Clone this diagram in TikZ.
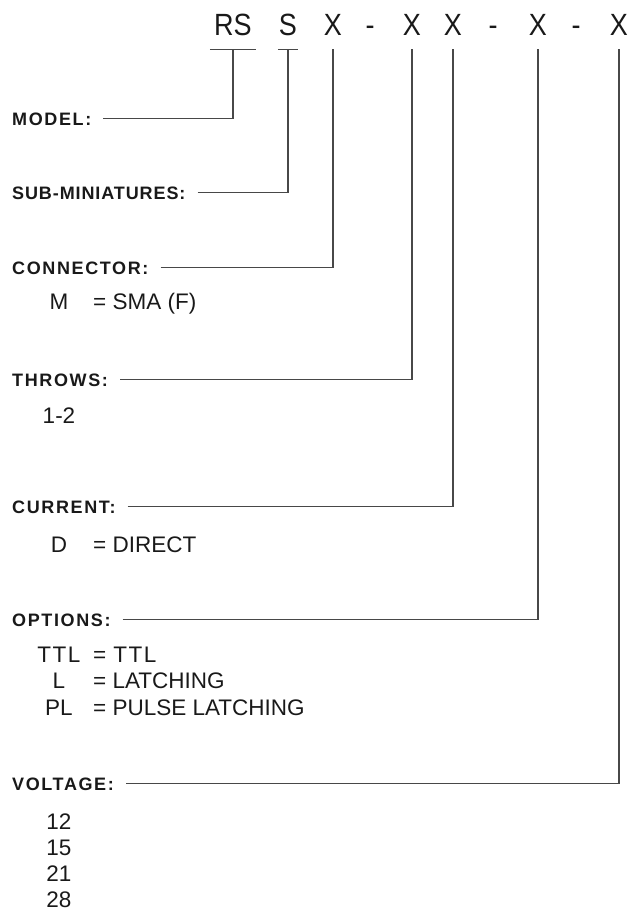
\documentclass[tikz,border=0pt]{standalone}
\usepackage{fontspec}
\setmainfont{Liberation Sans}
\newfontfamily\codefont{Liberation Sans}[FakeStretch=0.88]
\newfontfamily\lblfont{Liberation Sans}[LetterSpace=9]
\newfontfamily\lblfonttight{Liberation Sans}[LetterSpace=5]
\usetikzlibrary{positioning}
\definecolor{linegray}{RGB}{72,72,72}
\definecolor{ink}{RGB}{25,25,25}
\tikzset{
  code/.style={anchor=base,font=\codefont\fontsize{30.7}{32}\selectfont,text=ink,
               text depth=0pt,inner xsep=0pt,inner ysep=14pt},
  lbl/.style={anchor=base west,font=\lblfont\bfseries\fontsize{18}{20}\selectfont,text=ink,
              text height=13pt,text depth=0pt,inner xsep=12pt,inner ysep=0pt},
  key/.style={anchor=base,font=\fontsize{22.5}{24}\selectfont,text=ink,inner sep=0pt},
  val/.style={anchor=base west,font=\fontsize{22.5}{24}\selectfont,text=ink,inner sep=0pt},
  conn/.style={draw=linegray,line width=1.3pt}
}

\begin{document}
\begin{tikzpicture}[x=1pt,y=-1pt]
  \useasboundingbox (0,0) rectangle (640,914);
  % part number
  \node[code,minimum width=46pt] (rs) at (233,35) {RS};
  \node[code,minimum width=20pt] (sub) at (288,35) {S};
  \node[code] (con) at (333,35) {X};
  \node[code] (da) at (370,35) {-};
  \node[code] (thr) at (412,35) {X};
  \node[code] (cur) at (453,35) {X};
  \node[code] (db) at (493,35) {-};
  \node[code] (opt) at (538,35) {X};
  \node[code] (dc) at (576,35) {-};
  \node[code] (vol) at (619,35) {X};
  % field labels
  \node[lbl] (model) at (0,125) {MODEL:};
  \node[lbl,font=\lblfonttight\bfseries\fontsize{18}{20}\selectfont] (subm) at (0,199) {SUB-MINIATURES:};
  \node[lbl] (conn) at (0,274) {CONNECTOR:};
  \node[lbl] (throws) at (0,386) {THROWS:};
  \node[lbl] (current) at (0,513) {CURRENT:};
  \node[lbl] (options) at (0,626) {OPTIONS:};
  \node[lbl] (voltage) at (0,790) {VOLTAGE:};
  % connectors
  \draw[conn] (rs.south west) -- (rs.south east);
  \draw[conn] (sub.south west) -- (sub.south east);
  \draw[conn] (model.east) -| (rs.south);
  \draw[conn] (subm.east) -| (sub.south);
  \draw[conn] (conn.east) -| (con.south);
  \draw[conn] (throws.east) -| (thr.south);
  \draw[conn] (current.east) -| (cur.south);
  \draw[conn] (options.east) -| (opt.south);
  \draw[conn] (voltage.east) -| (vol.south);
  % values
  \node[key] (sma) at (59,309) {M};
  \node[val] (smav) at (93,309) {= SMA (F)};
  \node[key] (onetwo) at (59,423) {1-2};
  \node[key] (dir) at (59,552) {D};
  \node[val] (dirv) at (93,552) {= DIRECT};
  \node[key] (ttl) at (59,662) {T\kern1.5pt T\kern1.5pt L};
  \node[val] (ttlv) at (93,662) {=\hspace{7pt}T\kern1.5pt T\kern1.5pt L};
  \node[key] (lat) at (59,688) {L};
  \node[val] (latv) at (93,688) {= LATCHING};
  \node[key] (pl) at (59,715) {PL};
  \node[val] (plv) at (93,715) {= PULSE LATCHING};
  \foreach \v [count=\i] in {12,15,21,28}
    \node[key] (v\v) at (59,803+26*\i) {\v};
\end{tikzpicture}
\end{document}
